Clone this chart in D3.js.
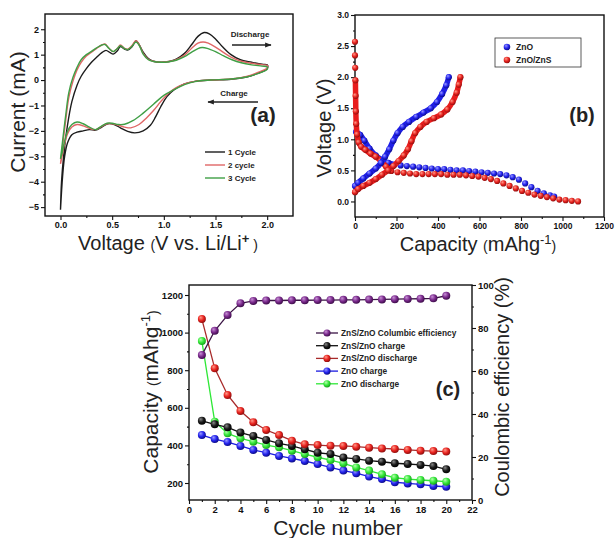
<!DOCTYPE html>
<html>
<head>
<meta charset="utf-8">
<script src="https://cdn.jsdelivr.net/npm/d3@7"></script>
<style>
  body { margin: 0; background: #fff; }
  svg { display: block; }
  text { font-family: "Liberation Sans", Arial, sans-serif; }
</style>
</head>
<body>
<svg id="fig" width="615" height="538"></svg>
<script>
// ---------- (a) Zyklovoltammetrie, Punkte [V, mA] (anodisch hin, kathodisch zurück)
const cvCycle1 = [
  [0.0,-5.1],[0.01,-4.0],[0.03,-3.0],[0.065,-1.85],[0.11,-0.85],[0.16,-0.2],[0.2,0.15],[0.25,0.45],
  [0.3,0.7],[0.35,0.9],[0.4,1.08],[0.44,1.17],[0.48,1.08],[0.51,1.02],[0.55,1.15],[0.58,1.32],
  [0.62,1.22],[0.65,1.18],[0.69,1.3],[0.73,1.55],[0.76,1.4],[0.8,1.1],[0.85,0.85],[0.9,0.74],
  [0.97,0.7],[1.05,0.73],[1.12,0.82],[1.2,1.05],[1.27,1.4],[1.33,1.72],[1.39,1.87],[1.44,1.82],
  [1.5,1.62],[1.57,1.3],[1.65,1.0],[1.74,0.8],[1.85,0.7],[1.95,0.62],[2.0,0.6],
  [2.0,0.45],[1.9,0.25],[1.8,0.12],[1.65,0.03],[1.45,0.0],[1.3,-0.05],[1.2,-0.15],[1.1,-0.38],
  [1.03,-0.65],[0.97,-1.05],[0.92,-1.45],[0.87,-1.78],[0.8,-2.0],[0.72,-2.08],[0.65,-2.02],
  [0.58,-1.88],[0.52,-1.75],[0.46,-1.72],[0.4,-1.85],[0.34,-1.97],[0.28,-1.95],[0.22,-2.0],
  [0.16,-2.05],[0.11,-2.15],[0.07,-2.45],[0.04,-3.0],[0.02,-3.8],[0.0,-5.1]
];
const cvCycle2 = [
  [0.0,-3.3],[0.02,-2.6],[0.05,-1.6],[0.08,-0.7],[0.12,-0.05],[0.16,0.4],[0.2,0.7],[0.25,0.95],
  [0.3,1.1],[0.35,1.25],[0.4,1.38],[0.43,1.42],[0.47,1.25],[0.51,1.12],[0.55,1.25],[0.58,1.38],
  [0.62,1.25],[0.65,1.22],[0.69,1.35],[0.73,1.55],[0.76,1.4],[0.8,1.05],[0.85,0.82],[0.9,0.74],
  [0.97,0.7],[1.05,0.73],[1.12,0.8],[1.2,0.98],[1.27,1.25],[1.33,1.45],[1.38,1.5],[1.43,1.45],
  [1.5,1.3],[1.58,1.08],[1.66,0.88],[1.75,0.74],[1.85,0.66],[1.95,0.6],[2.0,0.58],
  [2.0,0.48],[1.9,0.28],[1.8,0.14],[1.65,0.04],[1.45,0.0],[1.3,-0.05],[1.2,-0.15],[1.12,-0.3],
  [1.05,-0.5],[0.97,-0.85],[0.9,-1.2],[0.83,-1.5],[0.76,-1.75],[0.68,-1.88],[0.62,-1.85],
  [0.56,-1.78],[0.5,-1.72],[0.45,-1.72],[0.4,-1.82],[0.34,-1.95],[0.28,-1.9],[0.22,-1.8],
  [0.16,-1.75],[0.11,-1.85],[0.07,-2.1],[0.04,-2.5],[0.02,-2.9],[0.0,-3.3]
];
const cvCycle3 = [
  [0.0,-3.1],[0.02,-2.4],[0.05,-1.4],[0.08,-0.5],[0.12,0.1],[0.16,0.5],[0.2,0.8],[0.25,1.0],
  [0.3,1.13],[0.35,1.27],[0.4,1.38],[0.43,1.4],[0.47,1.24],[0.51,1.12],[0.55,1.24],[0.58,1.35],
  [0.62,1.24],[0.65,1.2],[0.69,1.32],[0.73,1.5],[0.76,1.38],[0.8,1.02],[0.85,0.8],[0.9,0.73],
  [0.97,0.7],[1.05,0.72],[1.12,0.78],[1.2,0.92],[1.27,1.1],[1.33,1.24],[1.37,1.28],[1.42,1.25],
  [1.5,1.12],[1.58,0.95],[1.66,0.8],[1.75,0.68],[1.85,0.6],[1.95,0.55],[2.0,0.52],
  [2.0,0.42],[1.9,0.24],[1.8,0.12],[1.65,0.04],[1.45,0.0],[1.3,-0.06],[1.2,-0.18],[1.1,-0.38],
  [1.0,-0.6],[0.9,-0.95],[0.8,-1.3],[0.7,-1.6],[0.62,-1.74],[0.56,-1.75],[0.5,-1.7],
  [0.45,-1.7],[0.4,-1.8],[0.34,-1.95],[0.28,-1.85],[0.22,-1.72],[0.16,-1.65],[0.11,-1.75],
  [0.07,-2.0],[0.04,-2.4],[0.02,-2.8],[0.0,-3.1]
];
const cvLabels = ["1 Cycle", "2 cycle", "3 Cycle"];
const cvColors = ["#1c1c1c", "#e06666", "#3f9f45"];

// ---------- (b) Lade-/Entladekurven, Punkte [mAh/g, V]
const znoCharge = [
  [0,0.25],[15,0.3],[40,0.37],[70,0.45],[100,0.53],[125,0.62],[145,0.72],[165,0.84],[185,0.98],
  [205,1.1],[230,1.2],[260,1.28],[295,1.36],[330,1.43],[365,1.5],[395,1.6],[420,1.73],[440,1.87],[452,2.0]
];
const znoDischarge = [
  [5,1.12],[25,1.07],[45,0.98],[70,0.85],[100,0.74],[130,0.67],[160,0.62],[190,0.59],[220,0.58],
  [250,0.57],[280,0.56],[310,0.55],[340,0.54],[370,0.53],[400,0.52],[430,0.52],[460,0.51],[490,0.5],
  [520,0.5],[550,0.49],[580,0.48],[610,0.47],[640,0.46],[670,0.45],[700,0.44],[730,0.42],[760,0.39],
  [790,0.35],[820,0.29],[850,0.23],[880,0.17],[910,0.13],[940,0.1],[960,0.08]
];
const znsCharge = [
  [0,0.15],[15,0.2],[40,0.25],[70,0.3],[100,0.36],[130,0.43],[160,0.5],[185,0.57],[210,0.65],
  [235,0.74],[255,0.84],[272,0.97],[290,1.1],[315,1.2],[345,1.28],[380,1.34],[415,1.4],[445,1.48],
  [470,1.6],[490,1.75],[500,1.88],[508,2.0]
];
const znsDischarge = [
  [0,2.57],[0,2.35],[1,2.15],[2,1.95],[3,1.7],[4,1.45],[6,1.25],[10,1.08],[18,0.95],[30,0.88],
  [50,0.83],[75,0.77],[100,0.72],[125,0.65],[150,0.56],[175,0.49],[205,0.47],[235,0.46],[265,0.45],
  [295,0.44],[325,0.44],[355,0.44],[385,0.44],[415,0.44],[445,0.43],[475,0.43],[505,0.43],[535,0.42],
  [565,0.41],[595,0.4],[625,0.38],[655,0.36],[685,0.33],[715,0.29],[745,0.25],[775,0.21],[805,0.17],
  [835,0.14],[865,0.11],[895,0.09],[925,0.07],[955,0.05],[985,0.03],[1015,0.02],[1045,0.01],[1075,0.0]
];

// ---------- (c) Zyklenstabilität
const cycles = [1,2,3,4,5,6,7,8,9,10,11,12,13,14,15,16,17,18,19,20];
const effZnsZno = [67.4,78.7,86,91.5,92.6,92.8,92.8,92.9,92.9,93,93,93.1,93.1,93.2,93.3,93.4,93.5,93.6,93.8,95];
const chgZnsZno = [531,512,496,468,450,429,411,397,379,361,354,335,328,319,313,305,301,296,290,273];
const disZnsZno = [1072,810,668,583,523,482,455,425,406,402,398,397,393,388,384,381,376,372,370,367];
const chgZno    = [455,434,418,397,376,361,344,331,317,301,283,266,252,234,221,204,198,193,184,180];
const disZno    = [955,526,464,438,420,402,390,372,354,337,322,305,283,266,246,228,221,216,212,207];

const svg = d3.select("#fig");
svg.append("rect").attr("width", 615).attr("height", 538).attr("fill", "#fff");

// Kugel-Gradienten für Marker
const defs = svg.append("defs");
function sphere(id, base, light, dark) {
  const gr = defs.append("radialGradient").attr("id", id)
    .attr("cx", "40%").attr("cy", "38%").attr("r", "65%").attr("fx", "35%").attr("fy", "30%");
  gr.append("stop").attr("offset", "0%").attr("stop-color", light);
  gr.append("stop").attr("offset", "55%").attr("stop-color", base);
  gr.append("stop").attr("offset", "100%").attr("stop-color", dark);
}
sphere("s-red", "#e8231f", "#ff9a8a", "#8a0c0c");
sphere("s-blue", "#2424ee", "#9a9aff", "#0a0a80");
sphere("s-green", "#35e83a", "#b8ffb0", "#169a1a");
sphere("s-black", "#1a1a1a", "#8a8a8a", "#000");
sphere("s-purple", "#7a2a8c", "#c890d6", "#3a0a46");

// Achsen + Rahmen im Origin-Stil
function axes(g, x, y, o) {
  const [x0, x1] = x.range(), [y0, y1] = y.range();
  const bx = g.append("g").attr("transform", `translate(0,${y0})`)
    .call(d3.axisBottom(x).tickValues(o.xt).tickSize(4).tickPadding(2).tickFormat(o.xf));
  g.append("g").attr("transform", `translate(0,${y0})`)
    .call(d3.axisBottom(x).tickValues(o.xm).tickSize(2).tickFormat(""));
  const ly = g.append("g").attr("transform", `translate(${x0},0)`)
    .call(d3.axisLeft(y).tickValues(o.yt).tickSize(4).tickPadding(2).tickFormat(o.yf));
  g.append("g").attr("transform", `translate(${x0},0)`)
    .call(d3.axisLeft(y).tickValues(o.ym).tickSize(2).tickFormat(""));
  g.selectAll(".domain").remove();
  g.selectAll(".tick line").attr("stroke", "#111").attr("stroke-width", 1.1);
  [bx, ly].forEach(a => a.selectAll("text")
    .attr("font-size", o.fs).attr("font-weight", "bold").attr("fill", "#111")
    .attr("font-family", "'Liberation Sans', Arial, sans-serif"));
  g.append("rect").attr("x", x0).attr("y", y1).attr("width", x1 - x0).attr("height", y0 - y1)
    .attr("fill", "none").attr("stroke", "#111").attr("stroke-width", 1.4);
}

function rng(a, b, s) { const r = []; for (let v = a; v <= b + 1e-9; v += s) r.push(+v.toFixed(4)); return r; }

// =============== (a) =================
{
  const g = svg.append("g");
  const x = d3.scaleLinear().domain([-0.15, 2.25]).range([45, 293]);
  const y = d3.scaleLinear().domain([-5.35, 2.6]).range([216, 14]);
  axes(g, x, y, {
    xt: [0, 0.5, 1, 1.5, 2], xm: rng(0.25, 1.75, 0.5), xf: d3.format(".1f"),
    yt: rng(-5, 2, 1), ym: rng(-4.5, 1.5, 1), yf: d3.format("d"), fs: 9
  });
  const line = d3.line().x(d => x(d[0])).y(d => y(d[1])).curve(d3.curveCatmullRom.alpha(0.5));
  [cvCycle1, cvCycle2, cvCycle3].forEach((c, i) => {
    g.append("path").attr("d", line(c)).attr("fill", "none")
      .attr("stroke", cvColors[i]).attr("stroke-width", 1.4);
  });

  // Legende
  cvLabels.forEach((t, i) => {
    const yy = 152 + i * 13;
    g.append("line").attr("x1", 205).attr("x2", 225).attr("y1", yy).attr("y2", yy)
      .attr("stroke", cvColors[i]).attr("stroke-width", 1.4);
    g.append("text").attr("x", 228).attr("y", yy + 3).attr("font-size", 8).attr("font-weight", "bold")
      .attr("fill", "#222").text(t);
  });

  // Pfeile
  defs.append("marker").attr("id", "arr").attr("viewBox", "0 0 10 10").attr("refX", 9).attr("refY", 5)
    .attr("markerWidth", 5).attr("markerHeight", 5).attr("orient", "auto-start-reverse")
    .append("path").attr("d", "M0,1 L10,5 L0,9 Z").attr("fill", "#222");
  g.append("text").attr("x", 250).attr("y", 37).attr("text-anchor", "middle")
    .attr("font-size", 8).attr("font-weight", "bold").attr("fill", "#222").text("Discharge");
  g.append("line").attr("x1", 232).attr("x2", 271).attr("y1", 45).attr("y2", 45)
    .attr("stroke", "#222").attr("stroke-width", 1.3).attr("marker-end", "url(#arr)");
  g.append("text").attr("x", 234).attr("y", 96).attr("text-anchor", "middle")
    .attr("font-size", 8).attr("font-weight", "bold").attr("fill", "#222").text("Charge");
  g.append("line").attr("x1", 258).attr("x2", 208).attr("y1", 102).attr("y2", 102)
    .attr("stroke", "#222").attr("stroke-width", 1.3).attr("marker-end", "url(#arr)");

  g.append("text").attr("x", 263).attr("y", 122).attr("text-anchor", "middle")
    .attr("font-family", "'Liberation Serif', 'DejaVu Serif', serif").attr("font-weight", "bold")
    .attr("font-size", 21).attr("fill", "#222").text("(a)");

  // Achsentitel
  g.append("text").attr("transform", "translate(25,112) rotate(-90)").attr("text-anchor", "middle")
    .attr("font-size", 21).attr("fill", "#222").text("Current (mA)");
  const xl = g.append("text").attr("x", 168).attr("y", 250).attr("text-anchor", "middle")
    .attr("font-size", 20).attr("fill", "#222");
  xl.append("tspan").text("Voltage ");
  xl.append("tspan").attr("font-size", 14).text("(");
  xl.append("tspan").text("V vs. Li/Li");
  xl.append("tspan").attr("font-size", 13).attr("font-weight", "bold").attr("dy", -7).text("+");
  xl.append("tspan").attr("font-size", 14).attr("dy", 7).text(" )");
}

// =============== (b) =================
{
  const g = svg.append("g");
  const x = d3.scaleLinear().domain([0, 1200]).range([355, 604]);
  const y = d3.scaleLinear().domain([-0.25, 3]).range([217, 15]);
  axes(g, x, y, {
    xt: rng(0, 1200, 200), xm: rng(100, 1100, 200), xf: d3.format("d"),
    yt: rng(0, 3, 0.5), ym: rng(0.25, 2.75, 0.5), yf: d3.format(".1f"), fs: 8.5
  });
  const lineX = d3.line().x(d => x(d[0])).y(d => y(d[1])).curve(d3.curveCatmullRom);

  const series = [
    { data: znoDischarge, col: "#1f1fe6", grad: "s-blue", solidTo: 200 },
    { data: znsDischarge, col: "#e81c1c", grad: "s-red", solidTo: 180 },
    { data: znoCharge, col: "#1f1fe6", grad: "s-blue", solidTo: 9999 },
    { data: znsCharge, col: "#e81c1c", grad: "s-red", solidTo: 9999 }
  ];
  series.forEach(s => {
    const solid = s.data.filter(d => d[0] <= s.solidTo && d[1] < 2.05);
    g.append("path").attr("d", lineX(solid)).attr("fill", "none").attr("stroke", s.col)
      .attr("stroke-width", 5.5).attr("stroke-linecap", "round").attr("stroke-linejoin", "round");
    g.selectAll(null).data(s.data).enter().append("circle")
      .attr("cx", d => x(d[0])).attr("cy", d => y(d[1])).attr("r", 3.1)
      .attr("fill", `url(#${s.grad})`);
  });

  // Legende
  g.append("rect").attr("x", 495).attr("y", 38).attr("width", 86).attr("height", 29)
    .attr("fill", "#fff").attr("stroke", "#333").attr("stroke-width", 0.8);
  [["ZnO", "s-blue"], ["ZnO/ZnS", "s-red"]].forEach((e, i) => {
    const yy = 47 + i * 13;
    g.append("circle").attr("cx", 507).attr("cy", yy).attr("r", 3.3).attr("fill", `url(#${e[1]})`);
    g.append("text").attr("x", 516).attr("y", yy + 3).attr("font-size", 8.5).attr("font-weight", "bold")
      .attr("fill", "#222").text(e[0]);
  });

  g.append("text").attr("x", 582).attr("y", 122).attr("text-anchor", "middle")
    .attr("font-family", "'Liberation Serif', 'DejaVu Serif', serif").attr("font-weight", "bold")
    .attr("font-size", 20).attr("fill", "#222").text("(b)");

  g.append("text").attr("transform", "translate(331,128) rotate(-90)").attr("text-anchor", "middle")
    .attr("font-size", 20).attr("fill", "#222").text("Voltage (V)");
  const xl = g.append("text").attr("x", 478).attr("y", 251).attr("text-anchor", "middle")
    .attr("font-size", 20).attr("fill", "#222");
  xl.append("tspan").text("Capacity ");
  xl.append("tspan").attr("font-size", 14).text("(");
  xl.append("tspan").text("mAhg");
  xl.append("tspan").attr("font-size", 13).attr("dy", -7).text("-1");
  xl.append("tspan").attr("font-size", 14).attr("dy", 7).text(")");
}

// =============== (c) =================
{
  const g = svg.append("g");
  const x = d3.scaleLinear().domain([0, 22]).range([189, 472]);
  const y = d3.scaleLinear().domain([109.6, 1253.2]).range([500, 285]);
  const yR = d3.scaleLinear().domain([0, 100]).range([500, 285]);
  axes(g, x, y, {
    xt: rng(0, 22, 2), xm: rng(1, 21, 2), xf: d3.format("d"),
    yt: rng(200, 1200, 200), ym: rng(300, 1100, 200), yf: d3.format("d"), fs: 9.5
  });
  const ra = g.append("g").attr("transform", "translate(472,0)")
    .call(d3.axisRight(yR).tickValues(rng(0, 100, 20)).tickSize(4).tickPadding(2).tickFormat(d3.format("d")));
  g.append("g").attr("transform", "translate(472,0)")
    .call(d3.axisRight(yR).tickValues(rng(10, 90, 20)).tickSize(2).tickFormat(""));
  g.selectAll(".domain").remove();
  g.selectAll(".tick line").attr("stroke", "#111").attr("stroke-width", 1.1);
  ra.selectAll("text").attr("font-size", 9.5).attr("font-weight", "bold").attr("fill", "#111")
    .attr("font-family", "'Liberation Sans', Arial, sans-serif");

  const sets = [
    { vals: chgZno, sc: y, line: "#1a1ae0", grad: "s-blue", label: "ZnO charge" },
    { vals: disZno, sc: y, line: "#2ee836", grad: "s-green", label: "ZnO discharge" },
    { vals: chgZnsZno, sc: y, line: "#111", grad: "s-black", label: "ZnS/ZnO charge" },
    { vals: disZnsZno, sc: y, line: "#a82a2a", grad: "s-red", label: "ZnS/ZnO discharge" },
    { vals: effZnsZno, sc: yR, line: "#3a1444", grad: "s-purple", label: "ZnS/ZnO Columbic efficiency" }
  ];
  sets.forEach(s => {
    const pts = cycles.map((c, i) => [c, s.vals[i]]);
    g.append("path").attr("d", d3.line().x(d => x(d[0])).y(d => s.sc(d[1]))(pts))
      .attr("fill", "none").attr("stroke", s.line).attr("stroke-width", 1.3);
    g.selectAll(null).data(pts).enter().append("circle")
      .attr("cx", d => x(d[0])).attr("cy", d => s.sc(d[1])).attr("r", 4)
      .attr("fill", `url(#${s.grad})`);
  });

  // Legende (Reihenfolge wie im Bild)
  const order = [4, 2, 3, 0, 1];
  order.forEach((k, i) => {
    const s = sets[k], yy = 333 + i * 12.7;
    g.append("line").attr("x1", 316).attr("x2", 338).attr("y1", yy).attr("y2", yy)
      .attr("stroke", s.line).attr("stroke-width", 1.3);
    g.append("circle").attr("cx", 327).attr("cy", yy).attr("r", 3.6).attr("fill", `url(#${s.grad})`);
    g.append("text").attr("x", 341).attr("y", yy + 3).attr("font-size", 8.3).attr("font-weight", "bold")
      .attr("fill", "#222").text(s.label);
  });

  g.append("text").attr("x", 448).attr("y", 396).attr("text-anchor", "middle")
    .attr("font-family", "'Liberation Serif', 'DejaVu Serif', serif").attr("font-weight", "bold")
    .attr("font-size", 20).attr("fill", "#222").text("(c)");

  const yl = g.append("text").attr("transform", "translate(158,392) rotate(-90)").attr("text-anchor", "middle")
    .attr("font-size", 21).attr("fill", "#222");
  yl.append("tspan").text("Capacity ");
  yl.append("tspan").attr("font-size", 14).text("(");
  yl.append("tspan").text("mAhg");
  yl.append("tspan").attr("font-size", 13).attr("dy", -8).text("-1");
  yl.append("tspan").attr("font-size", 14).attr("dy", 8).text(")");

  g.append("text").attr("transform", "translate(509,387) rotate(-90)").attr("text-anchor", "middle")
    .attr("font-size", 20).attr("fill", "#222").text("Coulombic efficiency (%)");
  g.append("text").attr("x", 338).attr("y", 535).attr("text-anchor", "middle")
    .attr("font-size", 21).attr("fill", "#222").text("Cycle number");
}
</script>
</body>
</html>
